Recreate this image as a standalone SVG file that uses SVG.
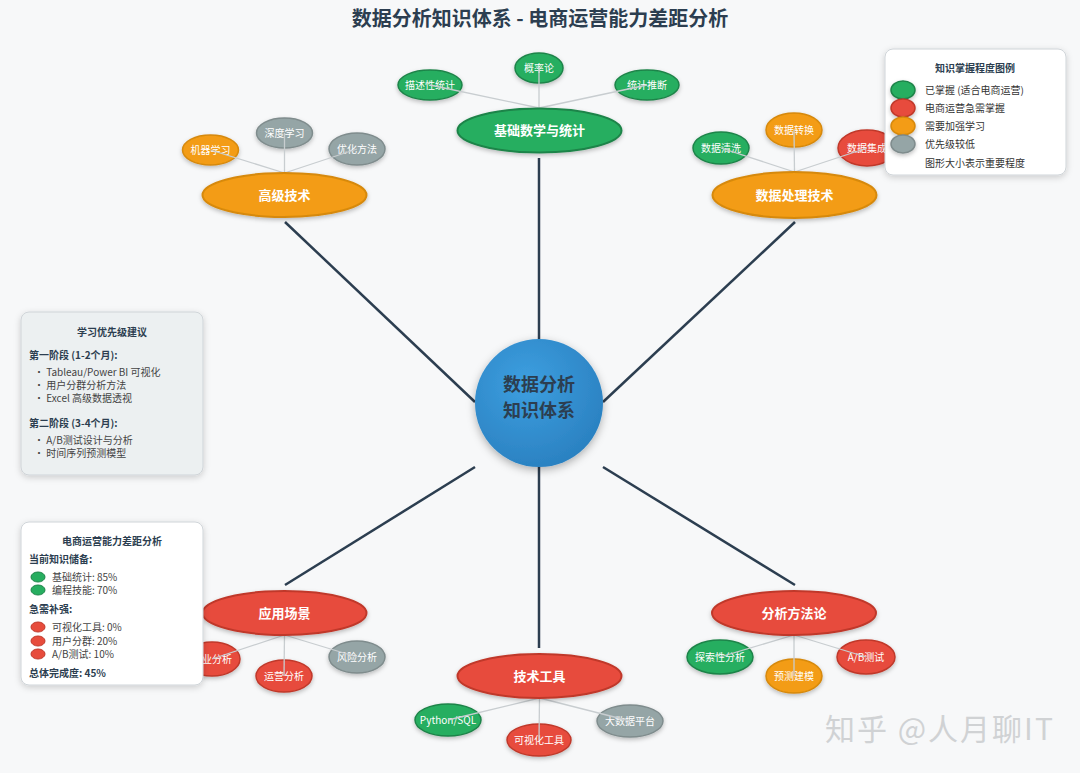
<svg xmlns="http://www.w3.org/2000/svg" width="1080" height="773" viewBox="0 0 1080 773">
<defs>
<radialGradient id="gBlue" cx="40%" cy="35%" r="70%">
<stop offset="0" stop-color="#3d9fe0"/>
<stop offset="1" stop-color="#2a80c0"/>
</radialGradient>
<filter id="sh" x="-30%" y="-30%" width="160%" height="170%">
<feDropShadow dx="0" dy="2" stdDeviation="2" flood-color="#000" flood-opacity="0.25"/>
</filter>
<filter id="shc" x="-30%" y="-30%" width="160%" height="160%">
<feDropShadow dx="0" dy="3" stdDeviation="4" flood-color="#000" flood-opacity="0.3"/>
</filter>
<filter id="shp" x="-10%" y="-10%" width="120%" height="125%">
<feDropShadow dx="0" dy="2" stdDeviation="3" flood-color="#000" flood-opacity="0.18"/>
</filter>
</defs>
<style>
text{font-family:"Noto Sans CJK SC","Liberation Sans",sans-serif;}
.title{font-size:20px;font-weight:bold;fill:#2c3e50;}
.main{stroke-width:2;filter:url(#sh);}
.sub{stroke-width:1.5;filter:url(#sh);}
.green{fill:#27ae60;stroke:#1e8449;}
.red{fill:#e74c3c;stroke:#c0392b;}
.orange{fill:#f39c12;stroke:#d68910;}
.gray{fill:#95a5a6;stroke:#7f8c8d;}
.mt{font-size:13px;font-weight:bold;fill:#fff;text-anchor:middle;}
.st{font-size:10px;fill:#fff;text-anchor:middle;}
.link{stroke:#2c3e50;stroke-width:2.5;fill:none;}
.slink{stroke:#c8cdd0;stroke-width:1.3;fill:none;}
.panel{stroke:#cfd4d8;stroke-width:1;filter:url(#shp);}
.pt{font-size:10px;font-weight:bold;fill:#2c3e50;text-anchor:middle;}
.ph{font-size:10px;font-weight:bold;fill:#2c3e50;}
.pi{font-size:10px;fill:#444;}
.lt{font-size:10px;fill:#333;}
.ct{font-size:18px;font-weight:bold;fill:#2c3e50;text-anchor:middle;}
</style>
<rect width="1080" height="773" fill="#f7f8f9"/>
<text class="title" x="540" y="26" text-anchor="middle">数据分析知识体系 - 电商运营能力差距分析</text>

<g id="connectors">
<line class="link" x1="539" y1="158" x2="539" y2="339"/>
<line class="link" x1="285" y1="222" x2="475" y2="402"/>
<line class="link" x1="795" y1="222" x2="603" y2="402"/>
<line class="link" x1="285" y1="585" x2="475" y2="467"/>
<line class="link" x1="795" y1="585" x2="603" y2="467"/>
<line class="link" x1="539" y1="467" x2="539" y2="648"/>
</g>

<g id="center">
<circle cx="539" cy="403" r="64" fill="url(#gBlue)" filter="url(#shc)"/>
<text class="ct" x="539" y="391">数据分析</text>
<text class="ct" x="539" y="417">知识体系</text>
</g>

<g id="node-math">
<ellipse class="sub green" cx="430" cy="85" rx="32" ry="15"/>
<text class="st" x="430" y="89">描述性统计</text>
<ellipse class="sub green" cx="539" cy="68" rx="24" ry="15"/>
<text class="st" x="539" y="72">概率论</text>
<ellipse class="sub green" cx="647" cy="85" rx="32" ry="15"/>
<text class="st" x="647" y="89">统计推断</text>
<line class="slink" x1="430" y1="85" x2="539" y2="108"/>
<line class="slink" x1="539" y1="68" x2="539" y2="108"/>
<line class="slink" x1="647" y1="85" x2="539" y2="108"/>
<ellipse class="main green" cx="539.5" cy="130.5" rx="82" ry="22"/>
<text class="mt" x="539.5" y="135">基础数学与统计</text>
</g>

<g id="node-advanced">
<ellipse class="sub orange" cx="210.5" cy="150" rx="28" ry="15"/>
<text class="st" x="210.5" y="154">机器学习</text>
<ellipse class="sub gray" cx="284.5" cy="133" rx="28" ry="15"/>
<text class="st" x="284.5" y="137">深度学习</text>
<ellipse class="sub gray" cx="357" cy="149" rx="28" ry="16"/>
<text class="st" x="357" y="153">优化方法</text>
<line class="slink" x1="210.5" y1="150" x2="284.5" y2="173"/>
<line class="slink" x1="284.5" y1="133" x2="284.5" y2="173"/>
<line class="slink" x1="357" y1="149" x2="284.5" y2="173"/>
<ellipse class="main orange" cx="284.5" cy="195" rx="82" ry="22"/>
<text class="mt" x="284.5" y="200">高级技术</text>
</g>

<g id="node-processing">
<ellipse class="sub green" cx="721" cy="148" rx="28" ry="16"/>
<text class="st" x="721" y="152">数据清洗</text>
<ellipse class="sub orange" cx="794" cy="130" rx="28" ry="17"/>
<text class="st" x="794" y="134">数据转换</text>
<ellipse class="sub red" cx="867" cy="148" rx="29" ry="18"/>
<text class="st" x="867" y="152">数据集成</text>
<line class="slink" x1="721" y1="148" x2="794.5" y2="172"/>
<line class="slink" x1="794" y1="130" x2="794.5" y2="172"/>
<line class="slink" x1="867" y1="148" x2="794.5" y2="172"/>
<ellipse class="main orange" cx="794.5" cy="195" rx="82" ry="23"/>
<text class="mt" x="794.5" y="200">数据处理技术</text>
</g>

<g id="node-scenarios">
<ellipse class="sub red" cx="212" cy="659" rx="28" ry="17"/>
<text class="st" x="212" y="663">商业分析</text>
<ellipse class="sub red" cx="284" cy="676" rx="28" ry="16"/>
<text class="st" x="284" y="680">运营分析</text>
<ellipse class="sub gray" cx="357" cy="657" rx="28" ry="16"/>
<text class="st" x="357" y="661">风险分析</text>
<line class="slink" x1="212" y1="659" x2="284.5" y2="635"/>
<line class="slink" x1="284" y1="676" x2="284.5" y2="635"/>
<line class="slink" x1="357" y1="657" x2="284.5" y2="635"/>
<ellipse class="main red" cx="284.5" cy="613" rx="82" ry="22"/>
<text class="mt" x="284.5" y="618">应用场景</text>
</g>

<g id="node-tools">
<ellipse class="sub green" cx="448" cy="720" rx="33" ry="16"/>
<text class="st" x="448" y="724">Python/SQL</text>
<ellipse class="sub red" cx="539" cy="740" rx="32" ry="16"/>
<text class="st" x="539" y="744">可视化工具</text>
<ellipse class="sub gray" cx="630" cy="721" rx="33" ry="16"/>
<text class="st" x="630" y="725">大数据平台</text>
<line class="slink" x1="448" y1="720" x2="539.5" y2="698"/>
<line class="slink" x1="539" y1="740" x2="539.5" y2="698"/>
<line class="slink" x1="630" y1="721" x2="539.5" y2="698"/>
<ellipse class="main red" cx="539.5" cy="676" rx="82" ry="22"/>
<text class="mt" x="539.5" y="681">技术工具</text>
</g>

<g id="node-methods">
<ellipse class="sub green" cx="720" cy="657" rx="33" ry="17"/>
<text class="st" x="720" y="661">探索性分析</text>
<ellipse class="sub orange" cx="794" cy="676" rx="28" ry="17"/>
<text class="st" x="794" y="680">预测建模</text>
<ellipse class="sub red" cx="866" cy="657" rx="29" ry="17"/>
<text class="st" x="866" y="661">A/B测试</text>
<line class="slink" x1="720" y1="657" x2="794" y2="635"/>
<line class="slink" x1="794" y1="676" x2="794" y2="635"/>
<line class="slink" x1="866" y1="657" x2="794" y2="635"/>
<ellipse class="main red" cx="794" cy="613" rx="82" ry="22"/>
<text class="mt" x="794" y="618">分析方法论</text>
</g>

<g id="legend">
<rect class="panel" x="885" y="49" width="181" height="126" rx="8" fill="#fff"/>
<text class="pt" x="975" y="72">知识掌握程度图例</text>
<ellipse class="sub green" cx="903" cy="90" rx="12" ry="9"/>
<text class="lt" x="925" y="94">已掌握 (适合电商运营)</text>
<ellipse class="sub red" cx="903" cy="108" rx="12" ry="9"/>
<text class="lt" x="925" y="112">电商运营急需掌握</text>
<ellipse class="sub orange" cx="903" cy="126" rx="12" ry="9"/>
<text class="lt" x="925" y="130">需要加强学习</text>
<ellipse class="sub gray" cx="903" cy="144" rx="12" ry="9"/>
<text class="lt" x="925" y="148">优先级较低</text>
<text class="lt" x="975" y="167" text-anchor="middle">图形大小表示重要程度</text>
</g>

<g id="priority-panel">
<rect class="panel" x="21" y="312" width="182" height="163" rx="8" fill="#ecf0f1"/>
<text class="pt" x="112" y="336">学习优先级建议</text>
<text class="ph" x="29" y="359">第一阶段 (1-2个月):</text>
<text class="pi" x="34" y="376">• Tableau/Power BI 可视化</text>
<text class="pi" x="34" y="389">• 用户分群分析方法</text>
<text class="pi" x="34" y="402">• Excel 高级数据透视</text>
<text class="ph" x="29" y="427">第二阶段 (3-4个月):</text>
<text class="pi" x="34" y="444">• A/B测试设计与分析</text>
<text class="pi" x="34" y="457">• 时间序列预测模型</text>
</g>

<g id="gap-panel">
<rect class="panel" x="21" y="522" width="182" height="163" rx="8" fill="#fff"/>
<text class="pt" x="112" y="545">电商运营能力差距分析</text>
<text class="ph" x="29" y="563">当前知识储备:</text>
<ellipse class="green" cx="38" cy="577" rx="7" ry="5"/>
<text class="pi" x="52" y="581">基础统计: 85%</text>
<ellipse class="green" cx="38" cy="590" rx="7" ry="5"/>
<text class="pi" x="52" y="594">编程技能: 70%</text>
<text class="ph" x="29" y="613">急需补强:</text>
<ellipse class="red" cx="38" cy="627" rx="7" ry="5"/>
<text class="pi" x="52" y="631">可视化工具: 0%</text>
<ellipse class="red" cx="38" cy="641" rx="7" ry="5"/>
<text class="pi" x="52" y="645">用户分群: 20%</text>
<ellipse class="red" cx="38" cy="654" rx="7" ry="5"/>
<text class="pi" x="52" y="658">A/B测试: 10%</text>
<text class="ph" x="29" y="677">总体完成度: 45%</text>
</g>

<text x="825" y="740" font-size="30" fill="#d0d2d4" letter-spacing="2">知乎 @人月聊IT</text>
</svg>
